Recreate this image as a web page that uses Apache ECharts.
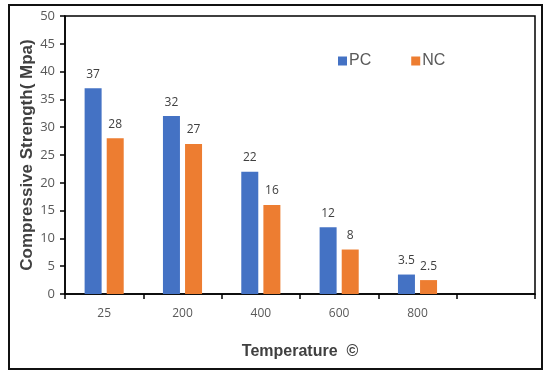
<!DOCTYPE html>
<html>
<head>
<meta charset="utf-8">
<script src="https://cdn.jsdelivr.net/npm/echarts@6/dist/echarts.min.js"></script>
<style>
  html, body { margin: 0; padding: 0; background: #fff; }
  #frame { position: absolute; left: 8px; top: 4px; width: 531px; height: 362px; border: 2px solid #111; box-sizing: content-box; }
  #chart { position: absolute; left: 0; top: 0; width: 546px; height: 371px; }
</style>
</head>
<body>
<div id="frame"></div>
<div id="chart"></div>
<script>
const categories = ['25', '200', '400', '600', '800', ''];
const pcValues = [37, 32, 22, 12, 3.5, null];
const ncValues = [28, 27, 16, 8, 2.5, null];
const yTicks = { min: 0, max: 50, interval: 5 };

const chart = echarts.init(document.getElementById('chart'));
const labelStyle = { show: true, position: 'top', distance: 8, color: '#404040', fontSize: 12, fontFamily: 'Open Sans' };

chart.setOption({
  animation: false,
  grid: { left: 65, right: 11, top: 16, bottom: 77, show: true, borderColor: '#000', borderWidth: 1.5 },
  legend: {
    data: ['PC', 'NC'],
    left: 333, top: 48,
    itemWidth: 9, itemHeight: 9, itemGap: 40, icon: 'rect',
    textStyle: { color: '#595959', fontSize: 16, fontFamily: 'Liberation Sans', padding: [0, 0, 0, -3] }
  },
  xAxis: {
    type: 'category',
    data: categories,
    name: 'Temperature  ©',
    nameLocation: 'middle',
    nameGap: 50,
    nameMoveOverlap: false,
    nameTextStyle: { color: '#404040', fontSize: 16, fontWeight: 'bold', fontFamily: 'Liberation Sans' },
    axisLine: { lineStyle: { color: '#000', width: 1.5 } },
    axisTick: { show: true, length: 5, lineStyle: { color: '#000', width: 1.5 } },
    axisLabel: { color: '#595959', fontSize: 12, margin: 14, fontFamily: 'Open Sans' }
  },
  yAxis: {
    type: 'value',
    min: yTicks.min, max: yTicks.max, interval: yTicks.interval,
    name: 'Compressive Strength( Mpa)',
    nameLocation: 'middle',
    nameGap: 29,
    nameMoveOverlap: false,
    nameTextStyle: { color: '#404040', fontSize: 17, fontWeight: 'bold', fontFamily: 'Liberation Sans' },
    axisLine: { show: true, lineStyle: { color: '#000', width: 1.5 } },
    axisTick: { show: true, length: 5, lineStyle: { color: '#000', width: 1.5 } },
    axisLabel: { color: '#595959', fontSize: 13, margin: 10, fontFamily: 'Open Sans' },
    splitLine: { show: false }
  },
  series: [
    { name: 'PC', type: 'bar', data: pcValues, barWidth: 17, barGap: '30%', itemStyle: { color: '#4472C4' }, label: labelStyle },
    { name: 'NC', type: 'bar', data: ncValues, barWidth: 17, itemStyle: { color: '#ED7D31' }, label: labelStyle }
  ]
});
</script>
</body>
</html>
